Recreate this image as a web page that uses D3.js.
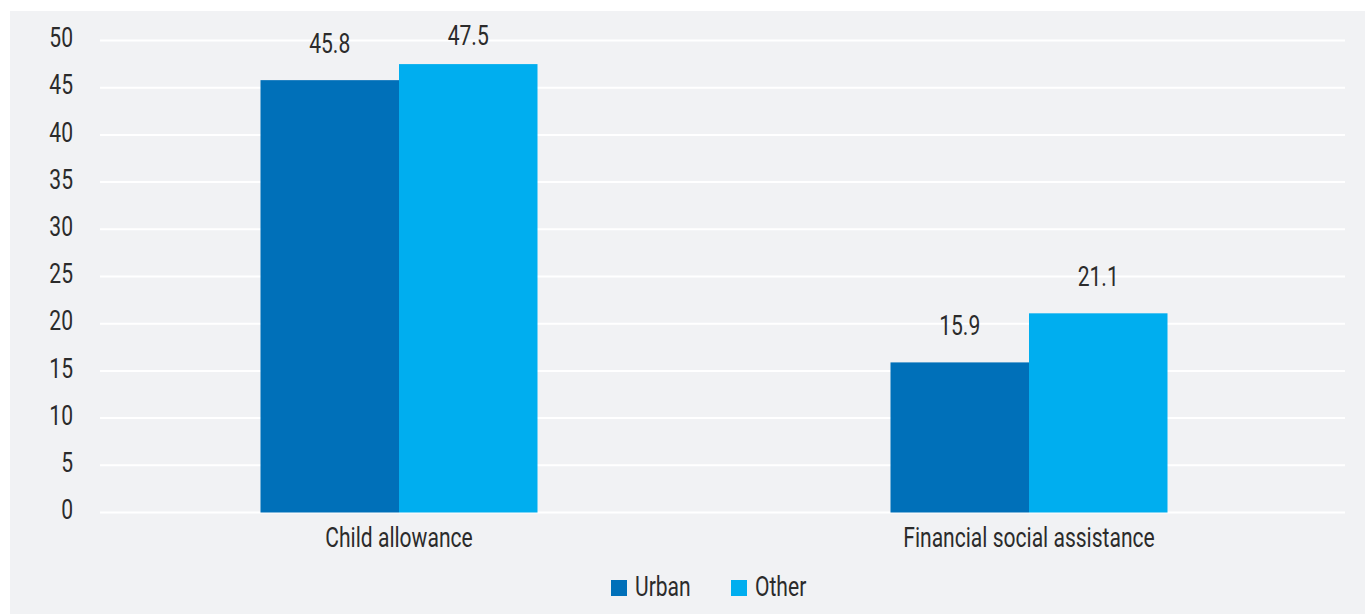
<!DOCTYPE html>
<html>
<head>
<meta charset="utf-8">
<script src="https://cdn.jsdelivr.net/npm/d3@7"></script>
<style>
  html, body { margin: 0; padding: 0; background: #ffffff; }
  svg { display: block; }
  text { font-family: Roboto, sans-serif; font-size: 27px; fill: #2b2b2b; }
</style>
</head>
<body>
<svg id="chart" width="1365" height="614"></svg>
<script>
// Benefit categories and shares by area type
const categories = ["Child allowance", "Financial social assistance"];
const seriesNames = ["Urban", "Other"];
const urbanValues = [45.8, 15.9];
const otherValues = [47.5, 21.1];
const yTicks = [0, 5, 10, 15, 20, 25, 30, 35, 40, 45, 50];
const seriesColors = ["#0070b9", "#00aeef"];

const seriesValues = [urbanValues, otherValues];
const rows = categories.map((c, i) => ({
  category: c,
  values: seriesNames.map((s, j) => ({ series: s, value: seriesValues[j][i], idx: j }))
}));

const svg = d3.select("#chart");
const W = 1365, H = 614;

// panel background
svg.append("rect")
  .attr("x", 10).attr("y", 11)
  .attr("width", W - 10).attr("height", H - 11)
  .attr("fill", "#f1f2f4");

const y = d3.scaleLinear().domain([0, 50]).range([512.5, 40.5]);
const x0 = d3.scaleBand().domain(categories).range([84, 1344]).paddingInner(0).paddingOuter(0);
const groupWidth = 277;
const x1 = d3.scaleBand().domain(seriesNames).range([0, groupWidth]).padding(0);

// gridlines
svg.append("g").selectAll("line")
  .data(yTicks)
  .join("line")
  .attr("x1", 100).attr("x2", 1345)
  .attr("y1", d => y(d)).attr("y2", d => y(d))
  .attr("stroke", "#ffffff").attr("stroke-width", 2);

// y axis labels
const yAxis = d3.axisLeft(y).tickValues(yTicks).tickSize(0).tickPadding(0);
const yg = svg.append("g").attr("transform", "translate(73,0)").call(yAxis);
yg.select(".domain").remove();
yg.selectAll("text").attr("dy", "0.23em");

// bars
const groups = svg.append("g").selectAll("g")
  .data(rows)
  .join("g")
  .attr("transform", d => `translate(${x0(d.category) + x0.bandwidth() / 2 - groupWidth / 2},0)`);

groups.selectAll("rect")
  .data(d => d.values)
  .join("rect")
  .attr("x", d => x1(d.series))
  .attr("y", d => y(d.value))
  .attr("width", x1.bandwidth())
  .attr("height", d => y(0) - y(d.value))
  .attr("fill", d => seriesColors[d.idx]);

// value labels
groups.selectAll("text.val")
  .data(d => d.values)
  .join("text")
  .attr("class", "val")
  .attr("x", d => x1(d.series) + x1.bandwidth() / 2)
  .attr("y", d => Math.max(y(d.value) - 27, 45))
  .attr("text-anchor", "middle")
  .text(d => d.value.toFixed(1));

// category axis labels
const xAxis = d3.axisBottom(x0).tickSize(0).tickPadding(0);
const xg = svg.append("g").attr("transform", "translate(0,528)").call(xAxis);
xg.select(".domain").remove();
xg.selectAll("text").attr("dy", "0.71em");

// legend
const legend = svg.append("g");
const legendItems = [
  { name: seriesNames[0], color: seriesColors[0], x: 611 },
  { name: seriesNames[1], color: seriesColors[1], x: 731 }
];
legendItems.forEach(it => {
  legend.append("rect")
    .attr("x", it.x).attr("y", 580)
    .attr("width", 16).attr("height", 16)
    .attr("fill", it.color);
  legend.append("text")
    .attr("x", it.x + 24).attr("y", 596)
    .text(it.name);
});

// narrow the lettering horizontally around each label's anchor point
const narrow = 0.78;
svg.selectAll("text").each(function () {
  const t = d3.select(this);
  const b = this.getBBox();
  const anchor = window.getComputedStyle(this).textAnchor || t.attr("text-anchor") || "start";
  const ax = anchor === "end" ? b.x + b.width : anchor === "middle" ? b.x + b.width / 2 : b.x;
  t.attr("transform", `translate(${ax * (1 - narrow)},0) scale(${narrow},1)`);
});
</script>
</body>
</html>
